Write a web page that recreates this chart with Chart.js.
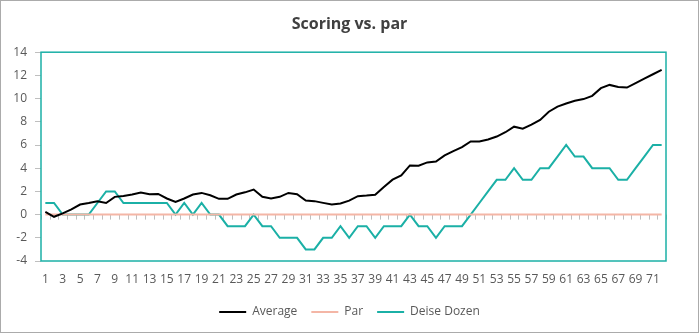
<!DOCTYPE html>
<html lang="en">
<head>
<meta charset="UTF-8">
<title>Scoring vs. par</title>
<script src="https://cdn.jsdelivr.net/npm/chart.js"></script>
<style>
  body { margin: 0; background: #fff; }
  #wrap { width: 699px; height: 333px; }
</style>
</head>
<body>
<div id="wrap"><canvas id="myChart" width="699" height="333"></canvas></div>
<script>
// holes 1..72
const holes = ['1','2','3','4','5','6','7','8','9','10','11','12','13','14','15','16','17','18',
  '19','20','21','22','23','24','25','26','27','28','29','30','31','32','33','34','35','36',
  '37','38','39','40','41','42','43','44','45','46','47','48','49','50','51','52','53','54',
  '55','56','57','58','59','60','61','62','63','64','65','66','67','68','69','70','71','72'];

const average = [0.24, -0.19, 0.1, 0.45, 0.87, 1.0, 1.15, 1.0, 1.53, 1.61, 1.73, 1.9,
  1.76, 1.78, 1.39, 1.1, 1.39, 1.73, 1.87, 1.67, 1.36, 1.36, 1.73, 1.92,
  2.16, 1.53, 1.39, 1.53, 1.87, 1.76, 1.21, 1.16, 1.01, 0.87, 0.96, 1.2,
  1.59, 1.64, 1.71, 2.38, 3.01, 3.38, 4.24, 4.21, 4.5, 4.58, 5.1, 5.47,
  5.81, 6.3, 6.3, 6.47, 6.73, 7.1, 7.58, 7.41, 7.75, 8.16, 8.87, 9.31,
  9.58, 9.81, 9.96, 10.24, 10.9, 11.18, 11.01, 10.95, 11.33, 11.72, 12.1, 12.47];

const par = [0,0,0,0,0,0,0,0,0,0,0,0,0,0,0,0,0,0,0,0,0,0,0,0,0,0,0,0,0,0,0,0,0,0,0,0,
  0,0,0,0,0,0,0,0,0,0,0,0,0,0,0,0,0,0,0,0,0,0,0,0,0,0,0,0,0,0,0,0,0,0,0,0];

const deiseDozen = [1, 1, 0, 0, 0, 0, 1, 2, 2, 1, 1, 1, 1, 1, 1, 0, 1, 0,
  1, 0, 0, -1, -1, -1, 0, -1, -1, -2, -2, -2, -3, -3, -2, -2, -1, -2,
  -1, -1, -2, -1, -1, -1, 0, -1, -1, -2, -1, -1, -1, 0, 1, 2, 3, 3,
  4, 3, 3, 4, 4, 5, 6, 5, 5, 4, 4, 4, 3, 3, 4, 5, 6, 6];

const yMin = -4, yMax = 14, yStep = 2;

const teal = '#1bb0a6';
const textGrey = '#595959';
const tickGrey = '#bfbfbf';

// white background, outer border, plot border, tick marks along zero line
const framePlugin = {
  id: 'frame',
  beforeDraw(chart) {
    const ctx = chart.ctx;
    ctx.save();
    ctx.fillStyle = '#fff';
    ctx.fillRect(0, 0, chart.width, chart.height);
    ctx.restore();
  },
  beforeDatasetsDraw(chart) {
    const ctx = chart.ctx;
    const x = chart.scales.x, y = chart.scales.y;
    const y0 = y.getPixelForValue(0);
    ctx.save();
    ctx.strokeStyle = tickGrey;
    ctx.lineWidth = 1;
    ctx.beginPath();
    for (let i = 0; i <= holes.length; i++) {
      const px = Math.round(x.getPixelForValue(i - 0.5)) + 0.5;
      ctx.moveTo(px, y0);
      ctx.lineTo(px, y0 + 5);
    }
    ctx.stroke();
    ctx.restore();
  },
  afterDatasetsDraw(chart) {
    const ctx = chart.ctx;
    const a = chart.chartArea;
    ctx.save();
    ctx.strokeStyle = teal;
    ctx.lineWidth = 1.5;
    ctx.strokeRect(a.left, a.top, a.right - a.left, a.bottom - a.top);
    ctx.strokeStyle = '#ababab';
    ctx.lineWidth = 1;
    ctx.strokeRect(0.5, 0.5, chart.width - 1, chart.height - 1);
    ctx.restore();
  }
};

const data = {
  labels: holes,
  datasets: [
    { label: 'Average', data: average, borderColor: '#000000', backgroundColor: '#000000', borderWidth: 2 },
    { label: 'Par', data: par, borderColor: '#f4b6a6', backgroundColor: '#f4b6a6', borderWidth: 2 },
    { label: 'Deise Dozen', data: deiseDozen, borderColor: teal, backgroundColor: teal, borderWidth: 2 }
  ]
};

const config = {
  type: 'line',
  data: data,
  options: {
    responsive: false,
    animation: false,
    devicePixelRatio: 1,
    elements: { point: { radius: 0 }, line: { tension: 0 } },
    layout: { padding: { left: 10, right: 10, top: 0, bottom: 5 } },
    plugins: {
      tooltip: { enabled: false },
      title: {
        display: true,
        text: 'Scoring vs. par',
        color: '#404040',
        font: { family: 'Open Sans', size: 16, weight: 'bold' },
        padding: { top: 15, bottom: 18 }
      },
      legend: {
        position: 'bottom',
        labels: {
          color: textGrey,
          font: { family: 'Open Sans', size: 12 },
          usePointStyle: true,
          pointStyle: 'line',
          pointStyleWidth: 27,
          padding: 14
        }
      }
    },
    scales: {
      x: {
        offset: true,
        afterFit: function (scale) { scale.height = 31; },
        grid: { display: false, drawTicks: false },
        border: { display: false },
        ticks: {
          color: textGrey,
          font: { family: 'Open Sans', size: 12 },
          autoSkip: false,
          maxRotation: 0,
          padding: 11,
          callback: function (val, idx) { return idx % 2 === 0 ? holes[idx] : ''; }
        }
      },
      y: {
        min: yMin,
        max: yMax,
        afterFit: function (scale) { scale.width = 31; },
        grid: { drawOnChartArea: false, drawTicks: true, tickLength: 6, color: tickGrey },
        border: { display: false },
        ticks: {
          stepSize: yStep,
          color: textGrey,
          font: { family: 'Open Sans', size: 12 },
          padding: 8
        }
      },
      // empty right-hand spacer so the plot ends where the reference does
      spacer: {
        type: 'linear',
        position: 'right',
        display: true,
        afterFit: function (scale) { scale.width = 23; },
        grid: { display: false, drawTicks: false },
        border: { display: false },
        ticks: { display: false }
      }
    }
  },
  plugins: [framePlugin]
};

const myChart = new Chart(document.getElementById('myChart'), config);
</script>
</body>
</html>
